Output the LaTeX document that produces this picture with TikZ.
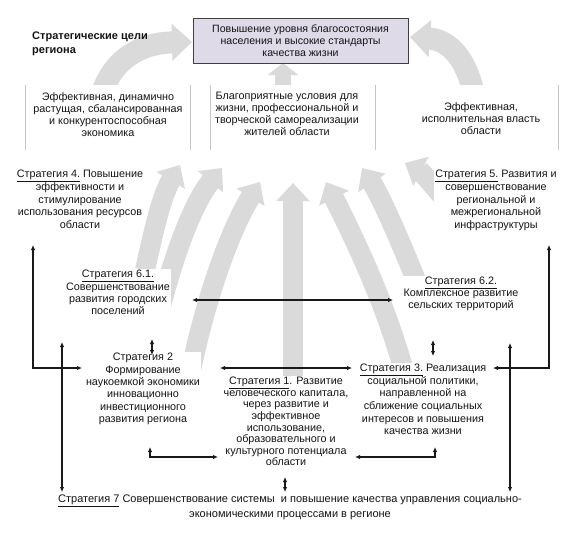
\documentclass[tikz,border=0pt]{standalone}
\usepackage{fontspec}
\setmainfont{Liberation Sans}
\usetikzlibrary{arrows.meta}
\definecolor{lav}{RGB}{222,218,232}
\definecolor{fang}{RGB}{218,218,218}
\begin{document}
\begin{tikzpicture}[x=1pt,y=-1pt,
  txt/.style={font=\fontsize{10.8}{12}\selectfont, align=center, inner sep=1pt, text=black!92},
  wtxt/.style={txt, fill=white},
  dconn/.style={line width=1.1pt, draw=black!90, {Latex[length=5pt,width=4.5pt]}-{Latex[length=5pt,width=4.5pt]}},
  fan/.style={line width=20pt, draw=fang, -{Triangle[length=18pt,width=32pt]}},
  bigfan/.style={line width=22pt, draw=fang, -{Triangle[length=20pt,width=36pt]}},
  gline/.style={draw=gray!45, line width=0.6pt},
]
\useasboundingbox[fill=white] (0,0) rectangle (563,536);

% ---- big grey arrows (behind everything) ----
\coordinate (tlA) at (100,100); \coordinate (tlB) at (192,42);
\draw[bigfan] (tlA) .. controls (110,60) and (140,43) .. (tlB);
\coordinate (trA) at (475,100); \coordinate (trB) at (410,37);
\draw[bigfan] (trA) .. controls (468,60) and (450,40) .. (trB);
\coordinate (mA) at (283,88); \coordinate (mB) at (283,63);
\draw[line width=16pt, draw=fang, -{Triangle[length=12pt,width=30pt]}] (mA) -- (mB);

\coordinate (fa1) at (145,270); \coordinate (fa2) at (180,165);
\draw[fan] (fa1) .. controls (155,225) and (162,195) .. (fa2);
\coordinate (fb1) at (160,310); \coordinate (fb2) at (222,168);
\draw[fan] (fb1) .. controls (175,250) and (195,200) .. (fb2);
\coordinate (fc1) at (190,375); \coordinate (fc2) at (260,182);
\draw[fan] (fc1) .. controls (205,300) and (230,230) .. (fc2);
\coordinate (fd1) at (293,385); \coordinate (fd2) at (293,183);
\draw[fan] (fd1) -- (fd2);
\coordinate (fe1) at (405,375); \coordinate (fe2) at (326,182);
\draw[fan] (fe1) .. controls (385,300) and (350,230) .. (fe2);
\coordinate (ff1) at (420,290); \coordinate (ff2) at (362,168);
\draw[fan] (ff1) .. controls (400,240) and (380,195) .. (ff2);
\coordinate (fg1) at (450,205); \coordinate (fg2) at (405,163);
\draw[fan] (fg1) .. controls (435,188) and (422,172) .. (fg2);

% ---- goal boxes ----
\fill[white] (25,85) rectangle (190,152);
\fill[white] (210,85) rectangle (558,152);
\foreach \xx in {25,190,210,375,558} \draw[gline] (\xx,85) -- (\xx,150);

\node[draw=black!75, line width=0.8pt, fill=lav, minimum width=215pt, minimum height=45pt,
      txt, font=\fontsize{10.6}{12}\selectfont] (top) at (300.5,40.5)
  {Повышение уровня благосостояния\\населения и высокие стандарты\\качества жизни};

\node[txt, font=\bfseries\fontsize{11}{14}\selectfont, align=left, anchor=north west] (lbl) at (31,31)
  {Стратегические цели\\региона};

\node[txt, anchor=north] (g1) at (108,91)
  {Эффективная, динамично\\растущая, сбалансированная\\и конкурентоспособная\\экономика};
\node[txt, anchor=north] (g2) at (287,91)
  {Благоприятные условия для\\жизни, профессиональной и\\творческой самореализации\\жителей области};
\node[txt, anchor=north] (g3) at (481,101)
  {Эффективная,\\исполнительная власть\\области};

% ---- strategies ----
\node[wtxt, anchor=north, font=\fontsize{10.8}{12.7}\selectfont] (s4) at (80,169)
  {\underline{Стратегия 4.} Повышение\\эффективности и\\стимулирование\\использования ресурсов\\области};
\node[wtxt, anchor=north, font=\fontsize{10.8}{12.7}\selectfont] (s5) at (496,169)
  {\underline{Стратегия 5.} Развития и\\совершенствование\\региональной и\\межрегиональной\\инфраструктуры};
\node[wtxt, anchor=north, font=\fontsize{10.8}{12.3}\selectfont] (s61) at (118,269)
  {\underline{Стратегия 6.1.}\\Совершенствование\\развития городских\\поселений};
\node[wtxt, anchor=north, font=\fontsize{10.8}{12}\selectfont] (s62) at (461,276)
  {\underline{Стратегия 6.2.}\\Комплексное развитие\\сельских территорий};
\node[wtxt, anchor=north, font=\fontsize{10.8}{12.4}\selectfont] (s2) at (143,352)
  {Стратегия 2\\Формирование\\наукоемкой экономики\\инновационно\\инвестиционного\\развития региона};
\node[wtxt, anchor=north, font=\fontsize{10.8}{11.6}\selectfont] (s1) at (286,376)
  {\underline{Стратегия 1}. Развитие\\человеческого капитала,\\через развитие и\\эффективное\\использование,\\образовательного и\\культурного потенциала\\области};
\node[wtxt, anchor=north, font=\fontsize{10.8}{12.6}\selectfont] (s3) at (423,363)
  {\underline{Стратегия 3.} Реализация\\социальной политики,\\направленной на\\сближение социальных\\интересов и повышения\\качества жизни};
\node[wtxt, anchor=north, font=\fontsize{11}{15}\selectfont] (s7) at (290,494)
  {\underline{Стратегия 7} Совершенствование системы~ и повышение качества управления социально-\\экономическими процессами в регионе};

% ---- connectors ----
\coordinate (lf1) at (33,245); \coordinate (lf2) at (33,368); \coordinate (lf3) at (82,368);
\draw[dconn] (lf1) -- (lf2) -- (lf3);
\coordinate (lv1) at (62,342); \coordinate (lv2) at (62,492);
\draw[dconn] (lv1) -- (lv2);
\coordinate (rf1) at (549,245); \coordinate (rf2) at (549,368); \coordinate (rf3) at (493,368);
\draw[dconn] (rf1) -- (rf2) -- (rf3);
\coordinate (rv1) at (510,343); \coordinate (rv2) at (510,492);
\draw[dconn] (rv1) -- (rv2);
\coordinate (h1a) at (192,300); \coordinate (h1b) at (393,300);
\draw[dconn] (h1a) -- (h1b);
\coordinate (h2a) at (220,368); \coordinate (h2b) at (352,368);
\draw[dconn] (h2a) -- (h2b);
\coordinate (v1a) at (152,339); \coordinate (v1b) at (152,355);
\draw[dconn] (v1a) -- (v1b);
\coordinate (v2a) at (433,340); \coordinate (v2b) at (433,356);
\draw[dconn] (v2a) -- (v2b);
\coordinate (v3a) at (285,477); \coordinate (v3b) at (285,492);
\draw[dconn] (v3a) -- (v3b);
\coordinate (la1) at (150,447); \coordinate (la2) at (150,457); \coordinate (la3) at (218,457);
\draw[dconn] (la1) -- (la2) -- (la3);
\coordinate (ra1) at (355,457); \coordinate (ra2) at (435,457); \coordinate (ra3) at (435,447);
\draw[dconn] (ra1) -- (ra2) -- (ra3);
\end{tikzpicture}
\end{document}
